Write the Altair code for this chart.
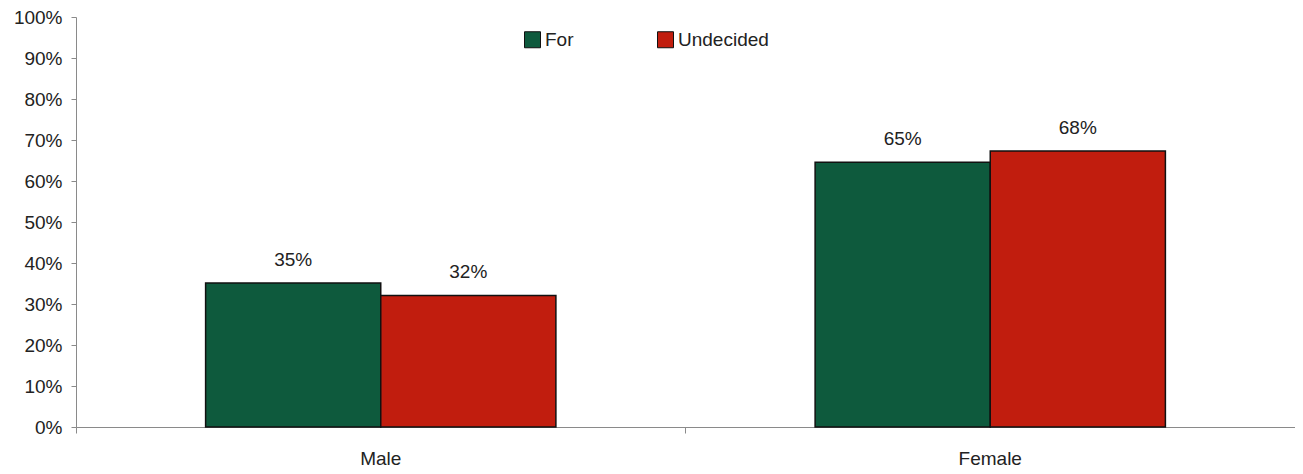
import altair as alt
import pandas as pd

genders = ["Male", "Male", "Female", "Female"]
groups = ["For", "Undecided", "For", "Undecided"]
values = [0.351, 0.321, 0.646, 0.673]
labels = ["35%", "32%", "65%", "68%"]

series = ["For", "Undecided"]
colors = ["#0e5a3d", "#c11d0e"]
gender_order = ["Male", "Female"]

df = pd.DataFrame({"gender": genders, "group": groups, "value": values, "label": labels})

W = 1219
H = 410
FONT = "Liberation Sans"
FS = 19

x_enc = alt.X(
    "gender:N",
    sort=gender_order,
    title=None,
    scale=alt.Scale(paddingInner=0, paddingOuter=0),
    axis=alt.Axis(
        bandPosition=1,
        tickExtra=True,
        labelAngle=0,
        tickSize=6,
        labelPadding=16,
        domainColor="#8a8a8a",
        tickColor="#8a8a8a",
    ),
)
xo_enc = alt.XOffset(
    "group:N",
    sort=series,
    scale=alt.Scale(paddingInner=0, paddingOuter=0.74),
)
y_enc = alt.Y(
    "value:Q",
    title=None,
    scale=alt.Scale(domain=[0, 1], nice=False),
    axis=alt.Axis(
        values=[i / 10 for i in range(11)],
        format=".0%",
        grid=False,
        tickSize=5,
        labelPadding=9,
        domainColor="#8a8a8a",
        tickColor="#8a8a8a",
    ),
)

bars = alt.Chart(df).mark_bar(stroke="#111111", strokeWidth=1.5).encode(
    x=x_enc,
    xOffset=xo_enc,
    y=y_enc,
    color=alt.Color(
        "group:N",
        sort=series,
        scale=alt.Scale(domain=series, range=colors),
        legend=alt.Legend(
            title=None,
            orient="none",
            direction="horizontal",
            legendX=447,
            legendY=13,
            symbolType="square",
            symbolSize=256,
            symbolStrokeColor="#111111",
            symbolStrokeWidth=1,
            labelFont=FONT,
            labelFontSize=FS,
            labelColor="#222222",
            labelOffset=3,
            columnPadding=81,
        ),
    ),
)

text = alt.Chart(df).mark_text(
    dy=-17, baseline="alphabetic", font=FONT, fontSize=FS, color="#222222"
).encode(
    x=alt.X("gender:N", sort=gender_order),
    xOffset=alt.XOffset("group:N", sort=series),
    y="value:Q",
    text="label:N",
)

chart = (
    alt.layer(bars, text)
    .properties(
        width=W,
        height=H,
        autosize=alt.AutoSizeParams(type="none"),
        padding={"left": 68, "top": 9, "right": 0, "bottom": 47},
    )
    .configure_view(stroke=None)
    .configure_axis(labelFont=FONT, labelFontSize=FS, labelColor="#222222")
)

chart.save("out.html", embed_options={"renderer": "svg", "actions": False})
